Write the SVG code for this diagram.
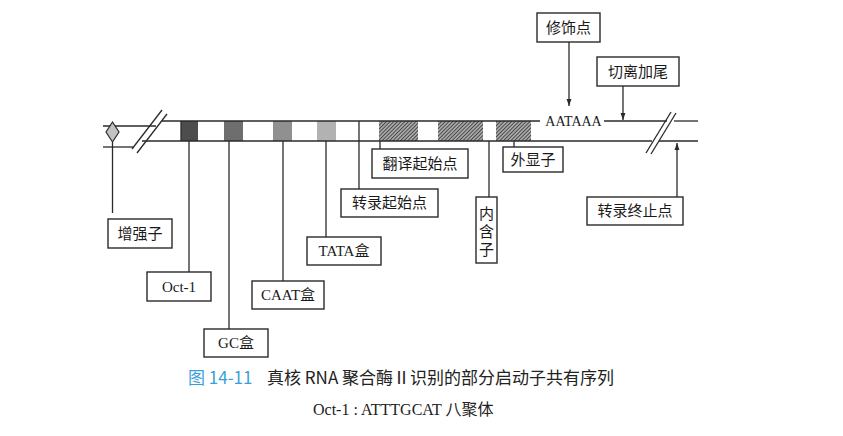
<svg xmlns="http://www.w3.org/2000/svg" width="843" height="436" viewBox="0 0 843 436">
<style>
.ln{stroke:#2a2a2a;stroke-width:1.3;fill:none}
.bx{fill:#fff;stroke:#2a2a2a;stroke-width:1.4}
.lb{font-family:"Liberation Serif","Noto Sans CJK SC",serif;font-size:15px;fill:#1a1a1a;text-anchor:middle}
.cap{font-family:"Noto Sans CJK SC","Noto Sans",sans-serif;font-size:17px;fill:#222}
</style>
<defs>
<pattern id="hatch" patternUnits="userSpaceOnUse" width="2.6" height="2.6" patternTransform="rotate(45)">
<rect width="2.6" height="2.6" fill="#a8a8a8"/>
<line x1="0" y1="0" x2="0" y2="2.6" stroke="#2a2a2a" stroke-width="1.4"/>
</pattern>
<marker id="ah" viewBox="0 0 10 10" refX="10" refY="5" markerWidth="7" markerHeight="7" markerUnits="userSpaceOnUse" orient="auto">
<path d="M0,1.5 L10,5 L0,8.5 Z" fill="#2a2a2a"/>
</marker>
</defs>
<rect width="843" height="436" fill="#fff"/>

<g id="dna">
<rect x="181" y="121" width="17" height="20" fill="#4d4d4d"/>
<rect x="224" y="121" width="19" height="20" fill="#6e6e6e"/>
<rect x="273" y="121" width="19" height="20" fill="#909090"/>
<rect x="317" y="121" width="19" height="20" fill="#b2b2b2"/>
<rect x="379" y="121" width="39" height="20" fill="url(#hatch)"/>
<rect x="438" y="121" width="45" height="20" fill="url(#hatch)"/>
<rect x="496" y="121" width="35" height="20" fill="url(#hatch)"/>
<line class="ln" x1="181" y1="121" x2="181" y2="141"/>
<line class="ln" x1="359" y1="121" x2="359" y2="141"/>
<line class="ln" x1="103" y1="126" x2="156" y2="126"/>
<line class="ln" x1="103" y1="147" x2="134" y2="147"/>
<line class="ln" x1="132" y1="149" x2="162" y2="110"/>
<line class="ln" x1="137" y1="153" x2="167" y2="114"/>
<line class="ln" x1="162" y1="121" x2="540" y2="121"/>
<line class="ln" x1="604" y1="121" x2="667" y2="121"/>
<line class="ln" x1="674" y1="121" x2="698" y2="121"/>
<line class="ln" x1="142" y1="141" x2="652" y2="141"/>
<line class="ln" x1="659" y1="141" x2="698" y2="141"/>
<line class="ln" x1="646" y1="153" x2="671" y2="112"/>
<line class="ln" x1="651" y1="154" x2="676" y2="113"/>
<text x="573.5" y="126" font-family="Liberation Serif, serif" font-size="14" fill="#1a1a1a" text-anchor="middle">AATAAA</text>
</g>

<g id="connectors">
<line class="ln" x1="112.5" y1="142" x2="112.5" y2="213"/>
<line class="ln" x1="189" y1="141" x2="189" y2="272"/>
<line class="ln" x1="229" y1="141" x2="229" y2="329"/>
<line class="ln" x1="283" y1="141" x2="283" y2="281"/>
<line class="ln" x1="326" y1="141" x2="326" y2="237"/>
<line class="ln" x1="359" y1="141" x2="359" y2="189"/>
<line class="ln" x1="380" y1="141" x2="380" y2="149"/>
<line class="ln" x1="489" y1="141" x2="489" y2="197"/>
<line class="ln" x1="514" y1="141" x2="514" y2="147"/>
<line class="ln" x1="569" y1="42" x2="569" y2="106" marker-end="url(#ah)"/>
<line class="ln" x1="623" y1="86" x2="623" y2="120" marker-end="url(#ah)"/>
<line class="ln" x1="677" y1="197" x2="677" y2="143" marker-end="url(#ah)"/>
</g>

<g id="enhancer">
<path d="M112.5,122 L119,132 L112.5,142 L106,132 Z" fill="#c2c2c2" stroke="#2a2a2a" stroke-width="1.2"/>
<rect class="bx" x="108" y="219" width="64" height="29"/>
<text class="lb" x="140" y="239">增强子</text>
</g>
<g id="oct1">
<rect class="bx" x="147" y="272" width="64" height="29"/>
<text class="lb" x="179" y="292">Oct-1</text>
</g>
<g id="gcbox">
<rect class="bx" x="204" y="329" width="64" height="28"/>
<text class="lb" x="236" y="348">GC盒</text>
</g>
<g id="caatbox">
<rect class="bx" x="252" y="281" width="72" height="28"/>
<text class="lb" x="288" y="300">CAAT盒</text>
</g>
<g id="tatabox">
<rect class="bx" x="307" y="237" width="74" height="28"/>
<text class="lb" x="344" y="256">TATA盒</text>
</g>
<g id="txstart">
<rect class="bx" x="341" y="189" width="97" height="28"/>
<text class="lb" x="389.5" y="208">转录起始点</text>
</g>
<g id="tlstart">
<rect class="bx" x="372" y="149" width="96" height="29"/>
<text class="lb" x="420" y="169">翻译起始点</text>
</g>
<g id="intron">
<rect class="bx" x="476" y="197" width="21" height="66"/>
<text class="lb" x="486.5" y="219">内</text>
<text class="lb" x="486.5" y="237">含</text>
<text class="lb" x="486.5" y="255">子</text>
</g>
<g id="exon">
<rect class="bx" x="503" y="147" width="60" height="25"/>
<text class="lb" x="533" y="165">外显子</text>
</g>
<g id="modsite">
<rect class="bx" x="537" y="13" width="63" height="29"/>
<text class="lb" x="568.5" y="33">修饰点</text>
</g>
<g id="cleavage">
<rect class="bx" x="597" y="57" width="82" height="29"/>
<text class="lb" x="638" y="77">切离加尾</text>
</g>
<g id="txend">
<rect class="bx" x="587" y="197" width="96" height="28"/>
<text class="lb" x="635" y="216">转录终止点</text>
</g>

<g id="caption">
<text class="cap" x="188" y="384"><tspan fill="#3a9fd8">图 14-11</tspan><tspan x="267">真核 RNA 聚合酶Ⅱ识别的部分启动子共有序列</tspan></text>
<text x="313" y="415" font-family="Liberation Serif, Noto Sans CJK SC, serif" font-size="16" fill="#222">Oct-1 : ATTTGCAT 八聚体</text>
</g>
</svg>
